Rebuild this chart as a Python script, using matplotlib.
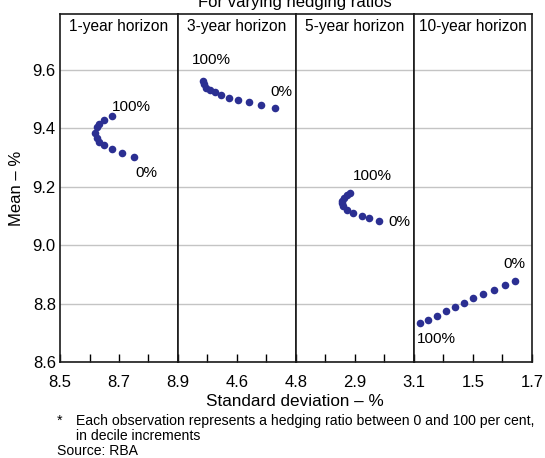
import numpy as np
import matplotlib.pyplot as plt

plt.rcParams['font.family'] = ['Liberation Sans', 'DejaVu Sans']

# hedging ratio 0%, 10%, ..., 100%
horizons = ["1-year horizon", "3-year horizon", "5-year horizon", "10-year horizon"]
sd_lo = [8.5, 4.4, 2.7, 1.3]
sd_hi = [8.9, 4.8, 3.1, 1.7]

sd_1yr = [8.751, 8.709, 8.675, 8.650, 8.633, 8.624, 8.619, 8.624, 8.633, 8.650, 8.675]
mean_1yr = [9.302, 9.316, 9.329, 9.342, 9.354, 9.366, 9.384, 9.402, 9.415, 9.429, 9.442]

sd_3yr = [4.728, 4.682, 4.640, 4.603, 4.573, 4.545, 4.524, 4.507, 4.496, 4.488, 4.485]
mean_3yr = [9.469, 9.478, 9.488, 9.497, 9.504, 9.514, 9.522, 9.529, 9.537, 9.549, 9.560]

sd_5yr = [2.982, 2.947, 2.923, 2.894, 2.872, 2.861, 2.855, 2.857, 2.864, 2.874, 2.883]
mean_5yr = [9.083, 9.092, 9.098, 9.109, 9.121, 9.132, 9.144, 9.152, 9.161, 9.170, 9.178]

sd_10yr = [1.642, 1.607, 1.570, 1.535, 1.501, 1.469, 1.438, 1.407, 1.377, 1.349, 1.320]
mean_10yr = [8.877, 8.865, 8.847, 8.833, 8.818, 8.802, 8.787, 8.774, 8.758, 8.744, 8.733]

sds = [sd_1yr, sd_3yr, sd_5yr, sd_10yr]
means = [mean_1yr, mean_3yr, mean_5yr, mean_10yr]

# label offsets (points) for the 0% and 100% ends
off_0 = [(8.6, -12), (5, 11.7), (14.4, -0.7), (-0.7, 12.3)]
off_100 = [(14, 6.5), (5.8, 15.6), (16.2, 12.3), (11.9, -11.5)]

navy = "#2b2f92"

fig, axes = plt.subplots(1, 4, figsize=(5.45, 4.58), dpi=100, sharey=True)
fig.subplots_adjust(left=0.1101, right=0.9761, bottom=0.2096, top=0.9694, wspace=0)

for i, ax in enumerate(axes):
    ax.scatter(sds[i], means[i], s=30, color=navy, zorder=3, linewidths=0)
    ax.set_xlim(sd_lo[i], sd_hi[i])
    ax.set_ylim(8.6, 9.79)
    ax.set_yticks([8.6, 8.8, 9.0, 9.2, 9.4, 9.6])
    ax.grid(axis='y', color='#c4c4c4', lw=1)
    ax.set_axisbelow(True)
    major = [sd_lo[i], sd_lo[i] + 0.2, sd_hi[i]]
    ax.set_xticks(major)
    labels = ["%.1f" % v for v in major]
    if i > 0:
        labels[0] = ""
    ax.set_xticklabels(labels)
    ax.set_xticks(np.arange(sd_lo[i] + 0.1, sd_hi[i] - 0.05, 0.1), minor=True)
    ax.tick_params(axis='x', which='major', direction='in', length=6, width=1, labelsize=12, pad=9)
    ax.tick_params(axis='x', which='minor', direction='in', length=6, width=1)
    ax.tick_params(axis='y', length=0, labelsize=12, pad=3)
    for sp in ax.spines.values():
        sp.set_color('#1a1a1a')
        sp.set_linewidth(1.2)
    ax.text(0.5, 0.963, horizons[i], transform=ax.transAxes, ha='center', va='center', fontsize=11.2)
    ax.annotate("0%", (sds[i][0], means[i][0]), xytext=off_0[i], textcoords='offset points',
                ha='center', va='center', fontsize=11)
    ax.annotate("100%", (sds[i][-1], means[i][-1]), xytext=off_100[i], textcoords='offset points',
                ha='center', va='center', fontsize=11)

axes[0].set_ylabel("Mean – %", fontsize=12, labelpad=6)
fig.text(0.5413, 1 - 402 / 458, "Standard deviation – %", ha='center', va='center', fontsize=12.3)
fig.text(295 / 545, 1 - 7 / 458, "For varying hedging ratios", ha='center', va='baseline', fontsize=12)

fig.text(57 / 545, 1 - 421 / 458, "*", ha='left', va='center', fontsize=10.1)
fig.text(76 / 545, 1 - 421 / 458, "Each observation represents a hedging ratio between 0 and 100 per cent,",
         ha='left', va='center', fontsize=10.1)
fig.text(76 / 545, 1 - 436 / 458, "in decile increments", ha='left', va='center', fontsize=10.1)
fig.text(57 / 545, 1 - 451 / 458, "Source: RBA", ha='left', va='center', fontsize=10.1)

fig.savefig("out.png", dpi=100)
